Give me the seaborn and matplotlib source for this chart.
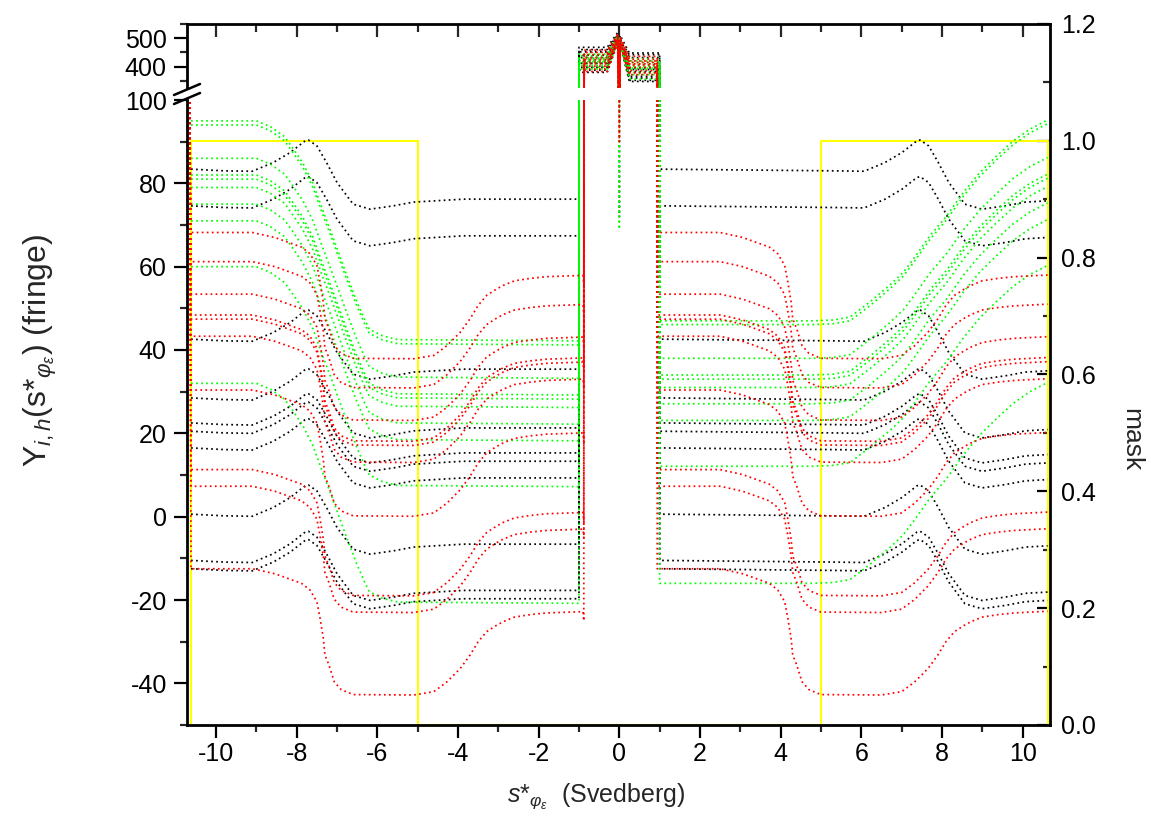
import numpy as np
import pandas as pd
import matplotlib
matplotlib.use("Agg")
import matplotlib.pyplot as plt
from matplotlib.ticker import MultipleLocator, FixedLocator, FormatStrFormatter
from matplotlib.lines import Line2D
import seaborn as sns

sns.set_theme(style="white")
plt.rcParams["font.family"] = ["Liberation Sans", "DejaVu Sans"]
plt.rcParams["mathtext.fontset"] = "custom"
plt.rcParams["mathtext.rm"] = "Liberation Sans"
plt.rcParams["mathtext.it"] = "Liberation Sans:italic"
plt.rcParams["mathtext.bf"] = "Liberation Sans:bold"
plt.rcParams["axes.unicode_minus"] = False

# ---------------- data ----------------
# levels at the outer edge (s* = -10.6) ; black / red also start the right branch at s* = +1
black_start = [83.4, 74.6, 42.6, 28.5, 22.5, 20.5, 16.5, 0.6, -10.5, -12.5]
red_start = [68.2, 61.2, 53.4, 48.4, 47.4, 43.3, 30.4, 11.3, 7.3, -12.5]
green_start = [95.0, 94.0, 86.0, 82.0, 81.0, 79.0, 75.0, 71.0, 60.0, 32.0]
green_right_start = [47.0, 46.1, 38.0, 34.0, 33.0, 31.0, 27.1, 23.1, 12.1, -16.0]
red_edge_x = -10.67      # red traces enter from above along the left border
red_edge_y = 120

# curve shapes (offset from the starting level)
black_left_x = [-10.62, -9.8, -9.1, -8.58, -8.16, -7.79, -7.71, -7.5, -7.26, -7.0, -6.6, -6.18, -5.6, -5.1, -3.87, -1.0]
black_left_dy = [0, -0.4, -0.5, 1.6, 4.0, 6.8, 7.0, 5.6, 1.6, -3.2, -8.4, -9.6, -8.8, -7.9, -7.2, -7.2]
black_right_x = [1.0, 5.3, 6.07, 6.59, 7.01, 7.38, 7.46, 7.67, 7.91, 8.17, 8.57, 8.99, 9.57, 10.07, 10.62]
black_right_dy = [0, -0.4, -0.5, 1.6, 4.0, 6.8, 7.0, 5.6, 1.6, -3.2, -8.4, -9.6, -8.8, -7.9, -7.6]

red_left_x = [-10.62, -9.1, -8.54, -7.88, -7.67, -7.5, -7.42, -7.34, -7.3, -7.2, -7.07, -6.9, -6.6, -5.1, -4.6,
              -4.28, -3.95, -3.7, -3.5, -3.29, -3.05, -2.88, -2.6, -2.2, -1.8, -0.9, -0.88]
red_left_dy = [0, 0, -1.2, -3.5, -5.1, -7.9, -11.9, -16.7, -20.7, -23.1, -27.1, -29.0, -30.2, -30.3, -29.5,
               -27.2, -24.0, -20.7, -17.5, -15.1, -13.6, -12.7, -11.6, -11.0, -10.6, -10.3, -12.5]
red_right_x = [0.94, 2.5, 3.06, 3.72, 3.93, 4.1, 4.18, 4.26, 4.3, 4.4, 4.53, 4.7, 5.0, 6.5, 7.0,
               7.32, 7.65, 7.9, 8.1, 8.31, 8.55, 8.72, 9.0, 9.4, 9.8, 10.62]
red_right_dy = [0, 0, -1.2, -3.5, -5.1, -7.9, -11.9, -16.7, -20.7, -23.1, -27.1, -29.0, -30.2, -30.3, -29.5,
                -27.2, -24.0, -20.7, -17.5, -15.1, -13.6, -12.7, -11.6, -11.0, -10.6, -10.2]

green_left_x = [-10.62, -9.0, -8.65, -8.3, -8.08, -7.85, -7.6, -7.36, -7.11, -6.78, -6.53, -6.32, -6.2, -5.87, -5.5, -1.0]
green_left_dy = [0, 0, -1.4, -3.8, -6.8, -10.1, -14.9, -21.3, -27.7, -36.5, -42.9, -47.6, -50.0, -51.6, -52.5, -52.8]
green_right_x = [1.0, 4.8, 5.3, 5.72, 6.21, 6.7, 7.04, 7.29, 7.7, 8.12, 8.53, 8.94, 9.36, 9.77, 10.18, 10.62]
green_right_dy = [0, 0, 0.2, 0.9, 4.5, 8.5, 11.6, 14.8, 20.4, 25.2, 30.8, 35.6, 39.6, 43.2, 46.0, 48.2]

# central part (upper, broken axis)
mid_x = [-0.3, -0.04, 0.0, 0.02, 0.25]
black_mid_left = [468, 452, 398, 380, 432, 412, 460, 440, 388, 422]
black_mid_peak = [520, 508, 492, 486, 500, 496, 512, 504, 488, 498]
black_mid_dip = [72, 160, 230, 280, 190, 250, 120, 210, 300, 260]
black_mid_right = [448, 390, 366, 348, 442, 396, 360, 352, 432, 382]

red_mid_left = [458, 425, 410, 402, 442, 392, 432, 416, 383, 450]
red_mid_peak = [515, 500, 494, 490, 506, 488, 502, 496, 484, 510]
red_mid_dip = [90, 170, 240, 200, 140, 280, 220, 180, 300, 110]
red_mid_right = [436, 415, 378, 420, 406, 372, 410, 398, 386, 426]

green_mid_left = [438, 430, 420, 412, 405, 398, 444, 426, 417, 392]
green_mid_peak = [510, 502, 496, 492, 488, 486, 506, 498, 494, 484]
green_mid_dip = [69, 130, 200, 260, 180, 240, 100, 150, 220, 280]
green_mid_right = [428, 402, 356, 414, 395, 380, 420, 406, 390, 372]

mask_x = [-10.62, -10.62, -5.0, -5.0, 5.0, 5.0, 10.62, 10.62]
mask_y = [0, 1, 1, 0, 0, 1, 1, 0]

x_ticks = [-10, -8, -6, -4, -2, 0, 2, 4, 6, 8, 10]
y_ticks_low = [-40, -20, 0, 20, 40, 60, 80, 100]
y_ticks_high = [400, 500]
mask_ticks = [0.0, 0.2, 0.4, 0.6, 0.8, 1.0, 1.2]

# ---------------- build long table ----------------
rows = []


def add_curve(name, color, xs, ys):
    for xv, yv in zip(xs, ys):
        rows.append((name, color, xv, yv))


for i in range(10):
    s = black_start[i]
    xs = list(black_left_x) + [-1.0] + mid_x + [1.0] + list(black_right_x)
    ys = ([s + d for d in black_left_dy] + [black_mid_left[i]] +
          [black_mid_left[i], black_mid_peak[i], black_mid_dip[i], black_mid_peak[i] - 10, black_mid_right[i]] +
          [black_mid_right[i]] + [s + d for d in black_right_dy])
    add_curve(f"b{i}", "black", xs, ys)

for i in range(10):
    s = green_start[i]
    g2 = green_right_start[i]
    xs = list(green_left_x) + [-1.0] + mid_x + [1.0] + list(green_right_x)
    ys = ([s + d for d in green_left_dy] + [green_mid_left[i]] +
          [green_mid_left[i], green_mid_peak[i], green_mid_dip[i], green_mid_peak[i] - 10, green_mid_right[i]] +
          [green_mid_right[i]] + [g2 + d for d in green_right_dy])
    add_curve(f"g{i}", "green", xs, ys)

for i in range(10):
    s = red_start[i]
    xs = [red_edge_x] + list(red_left_x) + [-0.87] + mid_x + [0.94] + list(red_right_x)
    ys = ([red_edge_y] + [s + d for d in red_left_dy] + [red_mid_left[i]] +
          [red_mid_left[i], red_mid_peak[i], red_mid_dip[i], red_mid_peak[i] - 10, red_mid_right[i]] +
          [red_mid_right[i]] + [s + d for d in red_right_dy])
    add_curve(f"r{i}", "red", xs, ys)

df = pd.DataFrame(rows, columns=["curve", "color", "x", "y"])
palette = {"black": "#000000", "green": "#00ff00", "red": "#ff0000"}
mask_df = pd.DataFrame({"x": mask_x, "y": mask_y})

# ---------------- figure ----------------
W, H = 1151, 836
fig = plt.figure(figsize=(W / 100, H / 100), dpi=100)
L, R = 187 / W, 1050 / W
ax_mask = fig.add_axes([L, 1 - 725 / H, R - L, (725 - 24) / H])
ax_bot = fig.add_axes([L, 1 - 725 / H, R - L, (725 - 100) / H])
ax_top = fig.add_axes([L, 1 - 88 / H, R - L, (88 - 24) / H])

XLIM = (-10.72, 10.68)
for a in (ax_mask, ax_bot, ax_top):
    a.set_xlim(*XLIM)
    a.set_facecolor("none")
    a.grid(False)

TICK_FS = 18

# mask (right axis)
sns.lineplot(data=mask_df, x="x", y="y", sort=False, estimator=None, color="#ffff00",
             linewidth=1.5, ax=ax_mask)
ax_mask.set_ylim(0, 1.2)
ax_mask.yaxis.tick_right()
ax_mask.yaxis.set_label_position("right")
ax_mask.yaxis.set_major_locator(FixedLocator(mask_ticks))
ax_mask.yaxis.set_minor_locator(MultipleLocator(0.1))
ax_mask.yaxis.set_major_formatter(FormatStrFormatter("%.1f"))
ax_mask.set_xticks([])
ax_mask.set_xlabel("")
ax_mask.set_ylabel("")
for sp in ("left", "top", "bottom"):
    ax_mask.spines[sp].set_visible(False)
ax_mask.spines["right"].set_linewidth(2.0)
ax_mask.spines["right"].set_color("black")
ax_mask.tick_params(axis="y", which="major", direction="in", length=9.5, width=1.6, labelsize=TICK_FS,
                    pad=8, colors="black", right=True, left=False)
ax_mask.tick_params(axis="y", which="minor", direction="in", length=5, width=1.6, right=True, left=False)

# data curves on both halves of the broken axis
for a in (ax_bot, ax_top):
    sns.lineplot(data=df, x="x", y="y", hue="color", units="curve", estimator=None, sort=False,
                 palette=palette, hue_order=["black", "green", "red"], legend=False,
                 linewidth=1.25, linestyle=(0, (1, 1.9)), ax=a)
    a.set_xlabel("")
    a.set_ylabel("")

ax_bot.set_ylim(-50, 100)
ax_top.set_ylim(325, 550)

# lower axis formatting
ax_bot.spines["top"].set_visible(False)
ax_bot.spines["right"].set_visible(False)
for sp in ("left", "bottom"):
    ax_bot.spines[sp].set_linewidth(2.0)
    ax_bot.spines[sp].set_color("black")
ax_bot.xaxis.set_major_locator(FixedLocator(x_ticks))
ax_bot.xaxis.set_minor_locator(MultipleLocator(1))
ax_bot.yaxis.set_major_locator(FixedLocator(y_ticks_low))
ax_bot.yaxis.set_minor_locator(MultipleLocator(10))
ax_bot.tick_params(axis="both", which="major", direction="out", length=9.5, width=1.6, labelsize=TICK_FS,
                   pad=5, colors="black", bottom=True, left=True, top=False, right=False)
ax_bot.tick_params(axis="x", which="major", pad=3)
ax_bot.tick_params(axis="both", which="minor", direction="out", length=5, width=1.6,
                   bottom=True, left=True, top=False, right=False)

# upper axis formatting
ax_top.spines["bottom"].set_visible(False)
ax_top.spines["right"].set_visible(False)
for sp in ("left", "top"):
    ax_top.spines[sp].set_linewidth(2.0)
    ax_top.spines[sp].set_color("black")
ax_top.xaxis.tick_top()
ax_top.xaxis.set_major_locator(FixedLocator(x_ticks))
ax_top.xaxis.set_minor_locator(MultipleLocator(1))
ax_top.yaxis.set_major_locator(FixedLocator(y_ticks_high))
ax_top.yaxis.set_minor_locator(MultipleLocator(50))
ax_top.tick_params(axis="x", which="major", direction="in", length=9.5, width=1.6, labeltop=False,
                   labelbottom=False, top=True, bottom=False)
ax_top.tick_params(axis="x", which="minor", direction="in", length=5.5, width=1.6, top=True, bottom=False)
ax_top.tick_params(axis="y", which="major", direction="out", length=9.5, width=1.6, labelsize=TICK_FS,
                   pad=5, colors="black", left=True, right=False)
ax_top.tick_params(axis="y", which="minor", direction="out", length=5, width=1.6, left=True, right=False)

# break marks
for y0 in (95, 104):
    fig.add_artist(Line2D([174 / W, 200 / W], [1 - y0 / H, 1 - (y0 - 11) / H], color="black", linewidth=1.8))

# labels
fig.text(596 / W, 1 - 802 / H, r"$s$*$_{\varphi_\varepsilon}$  (Svedberg)", ha="center", va="baseline",
         fontsize=18)
fig.text(40 / W, 1 - 350 / H, r"Y$_{i,h}$(s*$_{\varphi_\varepsilon}$) (fringe)", ha="center", va="center",
         rotation=90, fontsize=23)
fig.text(1131 / W, 1 - 440 / H, "mask", ha="center", va="center", rotation=270, fontsize=19)

fig.savefig("out.png", dpi=100, facecolor="white")
